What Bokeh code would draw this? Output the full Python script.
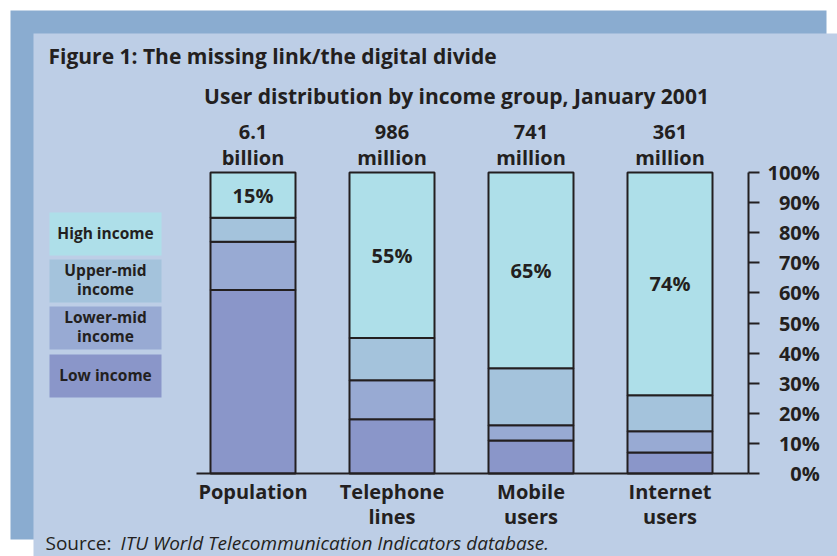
from bokeh.plotting import figure
from bokeh.models import Range1d, LinearAxis, FixedTicker, ColumnDataSource
from bokeh.embed import file_html
from bokeh.resources import INLINE
from bokeh.core.properties import value

# ---------------- data ----------------
categories = ["Population", "Telephone\nlines", "Mobile\nusers", "Internet\nusers"]
totals = ["6.1\nbillion", "986\nmillion", "741\nmillion", "361\nmillion"]
low = [61, 18, 11, 7]
lower_mid = [16, 13, 5, 7]
upper_mid = [8, 14, 19, 12]
high = [15, 55, 65, 74]
high_labels = ["15%", "55%", "65%", "74%"]
legend_labels = ["High income", "Upper-mid\nincome", "Lower-mid\nincome", "Low income"]
y_ticks = [0, 10, 20, 30, 40, 50, 60, 70, 80, 90, 100]
title_text = "Figure 1: The missing link/the digital divide"
subtitle_text = "User distribution by income group, January 2001"
source_label = "Source:"
source_text = "ITU World Telecommunication Indicators database."

# ---------------- style ----------------
C_DARK = "#8aacd0"
C_PANEL = "#bdcee6"
C_HIGH = "#aedfe9"
C_UPPER = "#a4c3dc"
C_LOWER = "#98aad3"
C_LOW = "#8a96c9"
C_TEXT = "#231f20"
FONT = value("Open Sans")

# page-pixel -> data helpers (used for decorations / placement only)
UNIT_X = 139.0      # px per category step
X0 = 252.5          # page x of first category centre
PX_PER_PCT = 3.01   # px per percentage point
Y0 = 473.0          # page y of 0 %


def X(px):
    return (px - X0) / UNIT_X


def Y(py):
    return (Y0 - py) / PX_PER_PCT


p = figure(width=837, height=556, x_range=Range1d(X(0), X(837)), y_range=Range1d(Y(556), Y(0)),
           toolbar_location=None, output_backend="svg", min_border=0,
           background_fill_color="white", border_fill_color="white",
           outline_line_color=None, x_axis_location=None, y_axis_location=None)
p.grid.visible = False

# frame decoration: dark back panel + light front panel
p.quad(left=X(10), right=X(826), bottom=Y(539), top=Y(10), fill_color=C_DARK, line_color=None)
p.quad(left=X(33), right=X(837), bottom=Y(556), top=Y(33), fill_color=C_PANEL, line_color=None)

xs = list(range(len(categories)))
src = ColumnDataSource(dict(x=xs, low=low, lower_mid=lower_mid, upper_mid=upper_mid, high=high))
p.vbar_stack(["low", "lower_mid", "upper_mid", "high"], x="x", width=85 / UNIT_X,
             color=[C_LOW, C_LOWER, C_UPPER, C_HIGH], line_color=C_TEXT, line_width=2,
             source=src)

# baseline
p.segment(x0=[X(196)], y0=[0], x1=[X(748)], y1=[0], line_color=C_TEXT, line_width=2)

# percentage axis (drawn at a fixed x position)
ax = LinearAxis(fixed_location=X(748), bounds=(0, 100), ticker=FixedTicker(ticks=y_ticks),
                major_label_overrides={t: ("\u2007" * (3 - len(str(t)))) + f"{t}%" for t in y_ticks},
                axis_line_color=C_TEXT, axis_line_width=2,
                major_tick_line_color=C_TEXT, major_tick_line_width=2,
                major_tick_out=11, major_tick_in=0, minor_tick_out=0, minor_tick_in=0,
                major_label_standoff=8,
                major_label_text_font="Open Sans", major_label_text_font_style="bold",
                major_label_text_font_size="20px", major_label_text_color=C_TEXT)
p.add_layout(ax, "right")

# labels inside the high-income segment
high_y = [100 - h / 2 for h in high]
p.text(x=xs, y=high_y, text=high_labels, text_font=FONT, text_font_style="bold",
       text_font_size="20px", text_align="center", text_baseline="middle", text_color=C_TEXT)

# totals above bars
p.text(x=xs, y=[Y(144)] * 4, text=totals, text_font=FONT, text_font_style="bold",
       text_font_size="20px", text_align="center", text_baseline="middle", text_color=C_TEXT,
       text_line_height=0.94)

# category labels
p.text(x=xs, y=[Y(477)] * 4, text=categories, text_font=FONT, text_font_style="bold",
       text_font_size="20px", text_align="center", text_baseline="top", text_color=C_TEXT,
       text_line_height=0.94)

# legend boxes
leg_colors = [C_HIGH, C_UPPER, C_LOWER, C_LOW]
leg_cy = [233.5, 280.5, 327.5, 375.5]
p.rect(x=[X(105)] * 4, y=[Y(c) for c in leg_cy], width=112 / UNIT_X, height=43 / PX_PER_PCT,
       fill_color=leg_colors, line_color=None)
p.text(x=[X(105)] * 4, y=[Y(c - 1.5) for c in leg_cy], text=legend_labels, text_font=FONT,
       text_font_style="bold", text_font_size="15.5px", text_align="center",
       text_baseline="middle", text_color=C_TEXT, text_line_height=0.9)

# titles
p.text(x=[X(48)], y=[Y(55)], text=[title_text], text_font=FONT, text_font_style="bold",
       text_font_size="21px", text_align="left", text_baseline="middle", text_color=C_TEXT)
p.text(x=[X(456)], y=[Y(95)], text=[subtitle_text], text_font=FONT, text_font_style="bold",
       text_font_size="21px", text_align="center", text_baseline="middle", text_color=C_TEXT)

# source
p.text(x=[X(45)], y=[Y(542)], text=[source_label], text_font=FONT, text_font_style="normal",
       text_font_size="19px", text_align="left", text_baseline="middle", text_color=C_TEXT)
p.text(x=[X(120)], y=[Y(542)], text=[source_text], text_font=FONT, text_font_style="italic",
       text_font_size="19px", text_align="left", text_baseline="middle", text_color=C_TEXT)

open("out.html", "w").write(file_html(p, INLINE))
